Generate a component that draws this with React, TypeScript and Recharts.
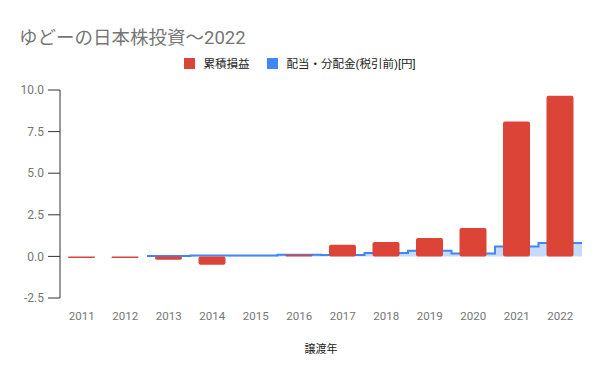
import { ComposedChart, Bar, Area, XAxis, YAxis } from 'recharts';

// 譲渡年ごとの累積損益と配当・分配金
const years = ['2011', '2012', '2013', '2014', '2015', '2016', '2017', '2018', '2019', '2020', '2021', '2022'];
const cumulativePL = [-0.1, -0.1, -0.2, -0.5, 0, 0.1, 0.7, 0.87, 1.1, 1.7, 8.1, 9.65];
const dividends = [null, null, 0.02, 0.05, 0.05, 0.1, 0.08, 0.2, 0.34, 0.18, 0.6, 0.8];
const yTicks = [-2.5, 0, 2.5, 5, 7.5, 10];

const RED = '#db4437';
const BLUE = '#4285f4';
const FONT = "Roboto, 'Noto Sans CJK JP', sans-serif";

const barData = years.map((y, i) => ({ year: y, pl: cumulativePL[i] }));

// stepped area spans each full category: one point at each category's left edge, plus the right end
const stepData: { x: number; v: number }[] = [];
years.forEach((y, i) => {
  const v = dividends[i];
  if (v !== null) stepData.push({ x: Number(y) - 0.5, v });
});
stepData.push({ x: Number(years[years.length - 1]) + 0.5, v: stepData[stepData.length - 1].v });

const App = () => {
  return (
    <div style={{ position: 'absolute', left: 0, top: 0, width: 600, height: 371, background: '#fff', fontFamily: FONT }}>
      <div style={{ position: 'absolute', left: 19, top: 23, fontSize: 18.5, color: '#757575' }}>
        ゆどーの日本株投資〜2022
      </div>
      <div style={{ position: 'absolute', left: 0, top: 55, width: 600, display: 'flex', justifyContent: 'center', alignItems: 'center', fontSize: 11.5, color: '#222' }}>
        <span style={{ width: 11, height: 11, background: RED, display: 'inline-block', marginRight: 8 }} />
        <span style={{ marginRight: 18 }}>累積損益</span>
        <span style={{ width: 11, height: 11, background: BLUE, display: 'inline-block', marginRight: 8 }} />
        <span>配当・分配金(税引前)[円]</span>
      </div>
      <ComposedChart width={600} height={371} data={barData} margin={{ top: 90, right: 18, bottom: 43, left: 0 }}>
        <XAxis dataKey="year" axisLine={false} tickLine={false} tickMargin={8} tick={{ fontSize: 11.5, fill: '#757575', fontFamily: FONT }} height={30} interval={0} />
        <XAxis xAxisId="s" type="number" dataKey="x" domain={[2010.5, 2022.5]} hide allowDataOverflow />
        <YAxis
          width={60}
          domain={[-2.5, 10]}
          ticks={yTicks}
          tickFormatter={(v: number) => v.toFixed(1)}
          tickSize={12}
          tickMargin={4}
          axisLine={{ stroke: '#333' }}
          tickLine={{ stroke: '#333' }}
          tick={{ fontSize: 12, fill: '#757575', fontFamily: FONT }}
        />
        <Area xAxisId="s" data={stepData} dataKey="v" type="stepAfter" stroke="none" fill={BLUE} fillOpacity={0.3} baseValue={0} isAnimationActive={false} />
        <Bar dataKey="pl" fill={RED} barSize={27} radius={[2, 2, 2, 2]} isAnimationActive={false} />
        <Area xAxisId="s" data={stepData} dataKey="v" type="stepAfter" stroke={BLUE} strokeWidth={2} fill="none" baseValue={0} isAnimationActive={false} />
      </ComposedChart>
      <div style={{ position: 'absolute', left: 60, width: 522, top: 340, textAlign: 'center', fontSize: 11, color: '#222' }}>
        譲渡年
      </div>
    </div>
  );
};

export default App;
